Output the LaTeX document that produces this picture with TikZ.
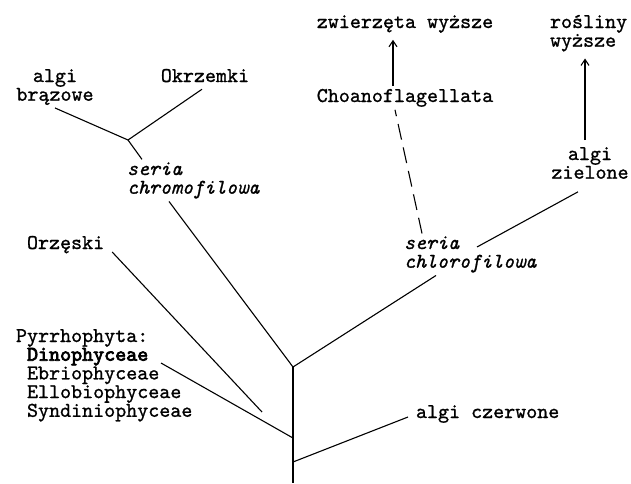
\documentclass[tikz,border=0pt]{standalone}
\usepackage{fontspec}
\newfontfamily\typewriter{lmmono10-regular.otf}[FakeBold=1]
\newfontfamily\typewriterit{lmmono10-italic.otf}[FakeBold=1]
\newfontfamily\typewriterbf{lmmono10-regular.otf}[FakeBold=3.5]
\usetikzlibrary{arrows.meta}

\tikzset{
  taxon/.style={font=\typewriter\fontsize{21}{18.7}\selectfont, inner sep=0pt, outer sep=3pt},
  series/.style={taxon, align=left, font=\typewriterit\fontsize{21}{18.7}\selectfont},
  branch/.style={line width=1.1pt},
  descent/.style={branch, -{Straight Barb[length=6pt,width=8pt]}},
}

\begin{document}
\begin{tikzpicture}[x=1pt, y=-1pt]
\useasboundingbox (0,0) rectangle (631,483);

% --- Labels: chromophyte side ---
\node[taxon, anchor=base, align=center] (brazowe) at (55,100.7) {algi\\brązowe};
\node[taxon, anchor=base] (okrzemki) at (205,82) {Okrzemki};
\node[series, anchor=base west] (chrom) at (124,193.7) {seria\\chromofilowa};
\node[taxon, anchor=base west] (orzeski) at (24,249) {Orzęski};
\node[taxon, anchor=base west, align=left] (pyrr) at (13,416.8)
  {Pyrrhophyta:\\\phantom{x}{\typewriterbf Dinophyceae}\\\phantom{x}Ebriophyceae\\\phantom{x}Ellobiophyceae\\\phantom{x}Syndiniophyceae};

% --- Labels: chlorophyte side ---
\node[taxon, anchor=base] (zwierz) at (405,28) {zwierzęta wyższe};
\node[taxon, anchor=base] (choano) at (405,102) {Choanoflagellata};
\node[taxon, anchor=base west, align=left] (rosliny) at (547,46.7) {rośliny\\wyższe};
\node[taxon, anchor=base, align=center] (zielone) at (590,178.7) {algi\\zielone};
\node[series, anchor=base west] (chlor) at (401,267.7) {seria\\chlorofilowa};
\node[taxon, anchor=base west] (czerw) at (413,418) {algi czerwone};

% --- Branch points ---
\coordinate (J1) at (128,140);
\coordinate (J2) at (293,367);
\coordinate (J3) at (293,438);
\coordinate (J4) at (293,462);
\coordinate (root) at (293,483);
\coordinate (orzend) at (262,412);

% --- Tree ---
\draw[branch] (J2) -- (J3) -- (J4) -- (root);
\draw[branch] (brazowe.south) -- (J1) -- ([xshift=-3pt,yshift=-4pt]okrzemki.south);
\draw[branch] (J1) -- ([xshift=18pt]chrom.north west);
\draw[branch] ([xshift=45pt]chrom.south west) -- (J2);
\draw[branch] (J2) -- ([xshift=35pt]chlor.south west);
\draw[branch] ([xshift=76pt,yshift=20.7pt]chlor.base west) -- ([xshift=-12pt,yshift=-10pt]zielone.south);
\draw[branch, dash pattern=on 16pt off 8pt] ([xshift=21pt]chlor.north west) -- ([xshift=-10pt]choano.south);
\draw[descent] ([xshift=-12pt]choano.north) -- ([xshift=-12pt,yshift=-4pt]zwierz.south);
\draw[descent] ([xshift=-5pt,yshift=4pt]zielone.north) -- ([xshift=38pt,yshift=-4pt]rosliny.south west);
\draw[branch] ([xshift=5pt,yshift=-3pt]orzeski.base east) -- (orzend);
\draw[branch] ([xshift=148pt,yshift=53.8pt]pyrr.base west) -- (J3);
\draw[branch] (J4) -- ([xshift=-5pt,yshift=1pt]czerw.base west);

\end{tikzpicture}
\end{document}
